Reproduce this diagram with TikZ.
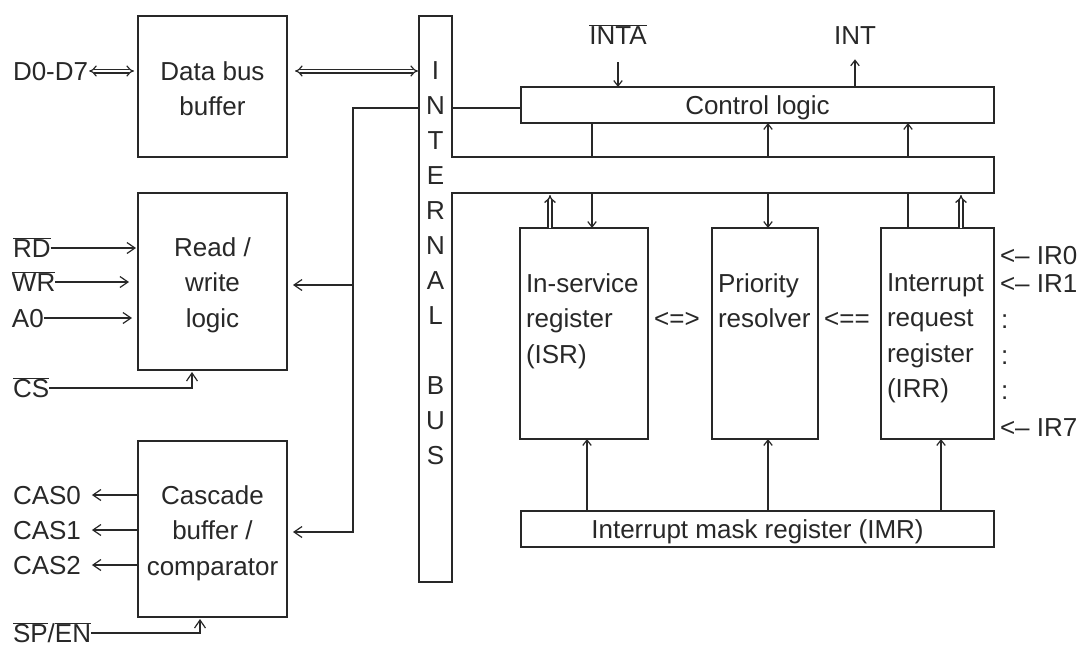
\documentclass[tikz,border=0pt]{standalone}
\usepackage{fontspec}
\setmainfont{Liberation Sans}
\usetikzlibrary{arrows.meta}
\definecolor{ink}{RGB}{40,40,40}
\newcommand{\ovl}[1]{$\overline{\mbox{#1}}$}
\begin{document}
\begin{tikzpicture}[x=1pt,y=-1pt,
  every node/.style={text=ink, inner sep=0pt, outer sep=0pt},
  fnt/.style={font=\fontsize{26}{35.5}\selectfont},
  box/.style={draw=ink, line width=1.6pt, rectangle},
  lbl/.style={fnt, text height=18.6pt, text depth=0pt},
  blk/.style={fnt, align=center, anchor=north},
  blkl/.style={fnt, align=left, anchor=north west},
  wire/.style={draw=ink, line width=1.2pt, line join=miter},
  arr/.style={wire, -{Straight Barb[length=8pt,width=11pt]}},
  sarr/.style={wire, -{Straight Barb[length=5.5pt,width=8.5pt]}},
  dbl/.style={draw=ink, line width=1.2pt, double=white, double distance=2.6pt, {Implies[scale=1.6]}-{Implies[scale=1.6]}},
  dup/.style={draw=ink, line width=1.3pt, double=white, double distance=2.6pt, -{Implies[scale=1.6]}},
]
\useasboundingbox (0,0) rectangle (1078,648);
\fill[white] (0,0) rectangle (1078,648);

% left blocks
\node[box, minimum width=149pt, minimum height=141pt] (dbb) at (212.5,86.5) {};
\node[blk] (dbbt) at (212.5,61.5) {Data bus\\buffer};
\node[box, minimum width=149pt, minimum height=177pt] (rw) at (212.5,281.5) {};
\node[blk] (rwt) at (212.5,237.5) {Read /\\write\\logic};
\node[box, minimum width=149pt, minimum height=176pt] (cas) at (212.5,529) {};
\node[blk] (cast) at (212.5,485.5) {Cascade\\buffer /\\comparator};

% internal bus and horizontal bar
\node[minimum width=33pt, minimum height=566pt] (bus) at (435.5,299) {};
\node[minimum width=542pt, minimum height=36pt] (bar) at (723,175) {};
\draw[ink, line width=1.6pt] (bus.north west) -- (bus.north east) -- (bar.north west)
  -- (bar.north east) -- (bar.south east) -- (bar.south west) -- (bus.south east)
  -- (bus.south west) -- cycle;
\node[blk, font=\fontsize{26}{35}\selectfont] (bust) at (435.5,61.7) {I\\N\\T\\E\\R\\N\\A\\L\\[35pt]B\\U\\S};

% right blocks
\node[box, lbl, minimum width=473pt, minimum height=36pt] (ctrl) at (757.5,105) {Control logic};
\node[box, minimum width=128pt, minimum height=211pt] (isr) at (584,333.5) {};
\node[box, minimum width=106pt, minimum height=211pt] (pr) at (765,333.5) {};
\node[box, minimum width=113pt, minimum height=211pt] (irr) at (937.5,333.5) {};
\node[box, lbl, minimum width=473pt, minimum height=36pt] (imr) at (757.5,529) {Interrupt mask register (IMR)};
\node[blkl] (isrt) at (526,273.5) {In-service\\register\\(ISR)};
\node[blkl] (prt) at (718,273.5) {Priority\\resolver};
\node[blkl] (irrt) at (887,273.5) {Interrupt\\request\\register\\(IRR)};
\node[lbl] (ex1) at (677,318) {<=>};
\node[lbl] (ex2) at (847,318) {<==};

% pin labels
\node[lbl, anchor=west] (d07) at (13,71) {D0-D7};
\node[lbl, anchor=west] (rd) at (13,248) {\ovl{RD}};
\node[lbl, anchor=west] (wr) at (12,282) {\ovl{WR}};
\node[lbl, anchor=west] (a0) at (12,318) {A0};
\node[lbl, anchor=west] (cs) at (13,388) {\ovl{CS}};
\node[lbl, anchor=west] (cas0) at (13,495) {CAS0};
\node[lbl, anchor=west] (cas1) at (13,530) {CAS1};
\node[lbl, anchor=west] (cas2) at (13,565) {CAS2};
\node[lbl, anchor=west] (spen) at (13,633) {\ovl{SP}/\ovl{EN}};
\node[lbl] (inta) at (618,35) {\ovl{INTA}};
\node[lbl] (int) at (855,35) {INT};
\node[lbl, anchor=west] (ir0) at (1000,255) {<– IR0};
\node[lbl, anchor=west] (ir1) at (1000,283) {<– IR1};
\node[lbl, anchor=west] (k1) at (1001,319.5) {:};
\node[lbl, anchor=west] (k2) at (1001,355.5) {:};
\node[lbl, anchor=west] (k3) at (1001,390.5) {:};
\node[lbl, anchor=west] (ir7) at (1000,427) {<– IR7};

% data bus arrows
\draw[dbl, shorten <=1pt, shorten >=4pt] (d07.east) -- (d07.east -| dbb.west);
\draw[dbl, shorten <=8pt, shorten >=1pt] ([yshift=15.5pt]dbb.east) -- ([yshift=15.5pt]dbb.east -| bus.west);

% left bus wiring
\coordinate (jt) at (353,108);
\coordinate (jm) at (353,285);
\coordinate (jb) at (353,532);
\draw[arr, shorten >=6pt] (bus.west |- jt) -- (jt) -- (jb) -- (jb -| cas.east);
\draw[arr, shorten >=6pt] (jm) -- (jm -| rw.east);
\draw[wire] (bus.east |- jt) -- (ctrl.west |- jt);

% read/write inputs
\draw[arr, shorten >=2pt] (rd.east) -- (rd.east -| rw.west);
\draw[arr, shorten >=9pt] (wr.east) -- (wr.east -| rw.west);
\draw[arr, shorten >=6pt] (a0.east) -- (a0.east -| rw.west);
\coordinate (csx) at (192,0);
\draw[arr, shorten >=2pt] (cs.east) -| (csx |- rw.south);

% cascade
\draw[arr, shorten >=11pt] (cas.west |- cas0.east) -- (cas0.east);
\draw[arr, shorten >=11pt] (cas.west |- cas1.east) -- (cas1.east);
\draw[arr, shorten >=11pt] (cas.west |- cas2.east) -- (cas2.east);
\coordinate (spx) at (200,0);
\draw[arr, shorten >=2pt] (spen.east) -| (spx |- cas.south);

% control logic
\draw[sarr, shorten <=18pt] (inta.south) -- (inta.south |- ctrl.north);
\draw[sarr, shorten >=15pt] (int.south |- ctrl.north) -- (int.south);

\coordinate (xa) at (592,0);
\coordinate (xb) at (768,0);
\coordinate (xc) at (908,0);
\coordinate (xd) at (550,0);
\coordinate (xe) at (961,0);
\coordinate (xf) at (587,0);
\coordinate (xg) at (941,0);
\draw[wire] (xa |- ctrl.south) -- (xa |- bar.north);
\draw[sarr] (xa |- bar.south) -- (xa |- isr.north);
\draw[sarr] (xb |- bar.north) -- (xb |- ctrl.south);
\draw[sarr] (xc |- bar.north) -- (xc |- ctrl.south);
\draw[dup, shorten >=2pt] (xd |- isr.north) -- (xd |- bar.south);
\draw[sarr] (xb |- bar.south) -- (xb |- pr.north);
\draw[wire] (xc |- bar.south) -- (xc |- irr.north);
\draw[dup, shorten >=2pt] (xe |- irr.north) -- (xe |- bar.south);
\draw[sarr] (xf |- imr.north) -- (xf |- isr.south);
\draw[sarr] (xb |- imr.north) -- (xb |- pr.south);
\draw[sarr] (xg |- imr.north) -- (xg |- irr.south);
\end{tikzpicture}
\end{document}
